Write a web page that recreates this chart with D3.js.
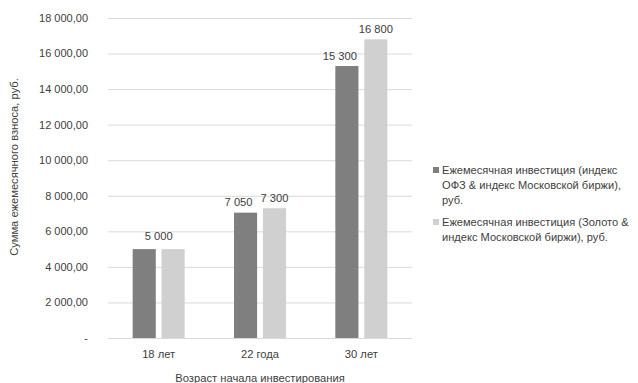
<!DOCTYPE html>
<html><head><meta charset="utf-8">
<script src="https://cdn.jsdelivr.net/npm/d3@7"></script>
<style>body{margin:0;background:#fff}svg{font-family:"Liberation Sans",Arial,sans-serif}</style>
</head><body><svg id="c" width="638" height="383"></svg>
<script>
const categories = ["18 лет", "22 года", "30 лет"];
const seriesNames = ["Ежемесячная инвестиция (индекс ОФЗ & индекс Московской биржи), руб.",
                     "Ежемесячная инвестиция (Золото & индекс Московской биржи), руб."];
const seriesOFZ = [5000, 7050, 15300];
const seriesGold = [5000, 7300, 16800];
const valueLabelsOFZ = ["5 000", "7 050", "15 300"];
const valueLabelsGold = ["", "7 300", "16 800"];
const yTicks = [0, 2000, 4000, 6000, 8000, 10000, 12000, 14000, 16000, 18000];
const yTickLabels = ["-", "2 000,00", "4 000,00", "6 000,00", "8 000,00", "10 000,00", "12 000,00", "14 000,00", "16 000,00", "18 000,00"];
const colors = ["#7f7f7f", "#d0d0d0"];
const textColor = "#404040";

const svg = d3.select("#c");
const mLeft = 108, mRight = 412, mTop = 18, mBottom = 338;
const x = d3.scaleBand().domain(categories).range([mLeft, mRight]);
const xs = d3.scaleBand().domain([0, 1]).range([-26, 26]).paddingInner(0.2);
const y = d3.scaleLinear().domain([0, 18000]).range([mBottom, mTop]);

// gridlines
svg.append("g").selectAll("line").data(yTicks).join("line")
  .attr("x1", mLeft).attr("x2", mRight)
  .attr("y1", d => y(d) + 0.5).attr("y2", d => y(d) + 0.5)
  .attr("stroke", "#d9d9d9").attr("stroke-width", 1);

// y tick labels
svg.append("g").selectAll("text").data(yTicks).join("text")
  .attr("x", 88).attr("y", d => y(d)).attr("dy", "0.35em")
  .attr("text-anchor", "end").attr("font-size", 11).attr("fill", textColor)
  .text((d, i) => yTickLabels[i]);

const series = [seriesOFZ, seriesGold];
const labels = [valueLabelsOFZ, valueLabelsGold];
// label nudge: first label spans both bars when equal, dark labels shift left to avoid overlap
const nudge = (si, i) => si === 0 ? (i === 0 ? 14.5 : -7) : 0;
series.forEach((vals, si) => {
  const g = svg.append("g");
  g.selectAll("rect").data(vals).join("rect")
    .attr("x", (d, i) => x(categories[i]) + x.bandwidth() / 2 + xs(si))
    .attr("width", xs.bandwidth())
    .attr("y", d => y(d)).attr("height", d => mBottom - y(d))
    .attr("fill", colors[si]);
  g.selectAll("text").data(vals).join("text")
    .attr("x", (d, i) => x(categories[i]) + x.bandwidth() / 2 + xs(si) + xs.bandwidth() / 2 + nudge(si, i))
    .attr("y", (d, i) => y(d) - (i === 0 ? 9 : 6.5))
    .attr("text-anchor", "middle").attr("font-size", 11.2).attr("fill", textColor)
    .text((d, i) => labels[si][i]);
});

// category labels
svg.append("g").selectAll("text").data(categories).join("text")
  .attr("x", d => x(d) + x.bandwidth() / 2).attr("y", 354).attr("dy", "0.35em")
  .attr("text-anchor", "middle").attr("font-size", 11.2).attr("fill", textColor)
  .text(d => d);

// axis titles
svg.append("text").attr("x", (mLeft + mRight) / 2).attr("y", 382)
  .attr("text-anchor", "middle").attr("font-size", 11.2).attr("fill", textColor)
  .text("Возраст начала инвестирования");
svg.append("text").attr("transform", "translate(18,167) rotate(-90)")
  .attr("text-anchor", "middle").attr("font-size", 11.2).attr("fill", textColor)
  .text("Сумма ежемесячного взноса, руб.");

// legend
const legendLines = [
  ["Ежемесячная инвестиция (индекс", "ОФЗ & индекс Московской биржи),", "руб."],
  ["Ежемесячная инвестиция (Золото &", "индекс Московской биржи), руб."]
];
const legendY = [170, 222];
legendLines.forEach((lines, si) => {
  const g = svg.append("g");
  g.append("rect").attr("x", 433).attr("y", legendY[si] - 3).attr("width", 6).attr("height", 6).attr("fill", colors[si]);
  g.append("text").attr("font-size", 11.1).attr("fill", textColor)
    .selectAll("tspan").data(lines).join("tspan")
    .attr("x", 442).attr("y", (d, i) => legendY[si] + i * 15).attr("dy", "0.35em")
    .text(d => d);
});
</script></body></html>
